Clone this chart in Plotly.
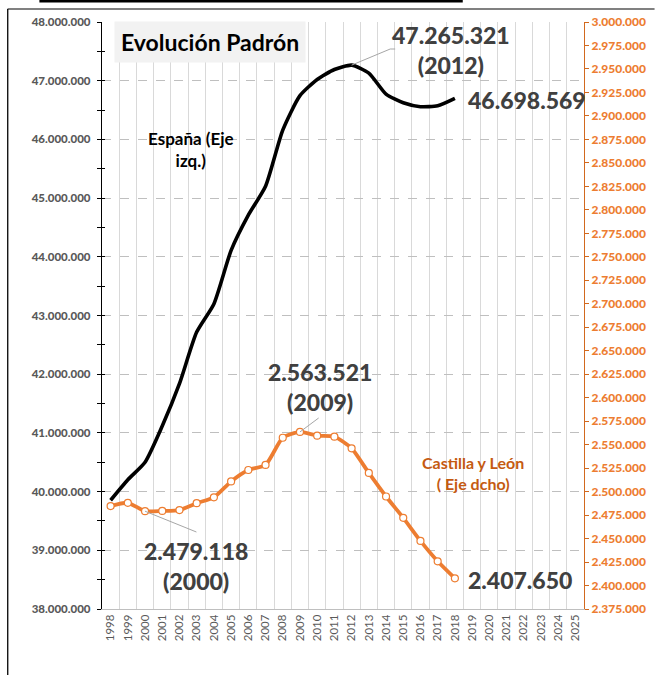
import plotly.graph_objects as go

# ---------------- data ----------------
years = list(range(1998, 2019))
axis_years = list(range(1998, 2026))
spain = [39852651, 40202160, 40499791, 41116842, 41837894, 42717064, 43197684,
         44108530, 44708964, 45200737, 46157822, 46745807, 47021031, 47190493,
         47265321, 47129783, 46771341, 46624382, 46557008, 46572132, 46698569]
cyl = [2484603, 2488062, 2479118, 2479425, 2480369, 2487646, 2493918,
       2510849, 2523020, 2528417, 2557330, 2563521, 2559515, 2558463,
       2546078, 2519875, 2494790, 2472052, 2447519, 2425801, 2407650]

left_ticks = list(range(38000000, 48000001, 1000000))
right_ticks = list(range(2375000, 3000001, 25000))


def fmt(v):
    return f"{v:,}".replace(",", ".")


FONT = "Lato"
ORANGE = "#ED7D31"
DORANGE = "#C55A11"
GREY_TXT = "#595959"
DARK = "#404040"

W, H = 658, 675
L, R, T, B = 102, 71, 22, 66
PW, PH = W - L - R, H - T - B


def px(x):
    return (x - L) / PW


def py(y):
    return (H - B - y) / PH


fig = go.Figure()

fig.add_trace(go.Scatter(
    x=years, y=spain, mode="lines", yaxis="y",
    line=dict(color="black", width=3.6, shape="spline", smoothing=0.6),
    hoverinfo="skip", showlegend=False))

fig.add_trace(go.Scatter(
    x=years, y=cyl, mode="lines+markers", yaxis="y2",
    line=dict(color=ORANGE, width=3.8, shape="spline", smoothing=0.6),
    marker=dict(symbol="circle", size=7, color="white",
                line=dict(color=ORANGE, width=1.2)),
    hoverinfo="skip", showlegend=False))

# invisible trace to host overlay axis for crossing ticks
fig.add_trace(go.Scatter(x=[years[0]], y=[spain[0]], yaxis="y3",
                         mode="markers", marker=dict(opacity=0),
                         hoverinfo="skip", showlegend=False))

fig.update_layout(
    width=W, height=H,
    margin=dict(l=L, r=R, t=T, b=B),
    paper_bgcolor="white", plot_bgcolor="white",
    font=dict(family=FONT),
    xaxis=dict(
        range=[1997.5, 2025.5], tickmode="array", tickvals=axis_years,
        ticktext=[str(y) for y in axis_years], tickangle=-90,
        tickfont=dict(size=11.5, color=GREY_TXT, family=FONT),
        showgrid=False, zeroline=False, ticks="",
        showline=True, linecolor="#BFBFBF", linewidth=1,
        minor=dict(tickvals=[y + 0.5 for y in axis_years[:-1]],
                   showgrid=True, gridcolor="#D9D9D9", gridwidth=1, ticks=""),
    ),
    yaxis=dict(
        range=[38000000, 48000000], tickmode="array", tickvals=left_ticks,
        ticktext=[fmt(v) for v in left_ticks],
        tickfont=dict(size=11.5, color=GREY_TXT, family=FONT + " Black"),
        ticklabelstandoff=4,
        showgrid=True, gridcolor="#BFBFBF", griddash="dash", gridwidth=1,
        zeroline=False, showline=True, linecolor="black", linewidth=1.3,
        ticks="outside", ticklen=4, tickcolor="black", tickwidth=1.3,
        minor=dict(dtick=500000, tick0=38000000, ticks="outside", ticklen=4,
                   tickcolor="black", tickwidth=1.3, showgrid=False),
    ),
    yaxis3=dict(
        range=[38000000, 48000000], overlaying="y", side="left", anchor="x",
        showticklabels=False, showgrid=False, zeroline=False, showline=False,
        tickmode="array", tickvals=left_ticks,
        ticks="inside", ticklen=3, tickcolor="black", tickwidth=1.3,
        minor=dict(dtick=500000, tick0=38000000, ticks="inside", ticklen=3,
                   tickcolor="black", tickwidth=1.3, showgrid=False),
    ),
    yaxis2=dict(
        range=[2375000, 3000000], overlaying="y", side="right", anchor="x",
        tickmode="array", tickvals=right_ticks,
        ticktext=[fmt(v) for v in right_ticks],
        tickfont=dict(size=12, color=ORANGE, family=FONT + " Black"),
        showgrid=False, zeroline=False, showline=True,
        linecolor="#D2691E", linewidth=1.3,
        ticks="outside", ticklen=4, tickcolor="#D2691E", tickwidth=1.3,
    ),
)

annots = []
big = dict(size=23, color=DARK, family=FONT + " Black")


def ann(text, x, y, font, xanchor="center", **kw):
    d = dict(text=text, x=px(x), y=py(y), xref="paper", yref="paper",
             showarrow=False, xanchor=xanchor, yanchor="middle", font=font)
    d.update(kw)
    return d


annots.append(ann("<b>Evolución Padrón</b>", 211, 42,
                  dict(size=23, color="black", family=FONT),
                  bgcolor="#F2F2F2", borderpad=6))
i12 = years.index(2012)
annots.append(ann(f"<b>{fmt(spain[i12])}<br>(2012)</b>", 453, 50, big))
annots.append(ann(f"<b>{fmt(spain[-1])}</b>", 468, 100, big, xanchor="left"))
annots.append(ann("<b>España (Eje<br>izq.)</b>", 192, 150,
                  dict(size=17, color="black", family=FONT)))
i09 = years.index(2009)
annots.append(ann(f"<b>{fmt(cyl[i09])}<br>(2009)</b>", 321, 387, big))
i00 = years.index(2000)
annots.append(ann(f"<b>{fmt(cyl[i00])}<br>(2000)</b>", 197, 566, big))
annots.append(ann(f"<b>{fmt(cyl[-1])}</b>", 468, 580, big, xanchor="left"))
annots.append(ann("<b>Castilla y León<br>( Eje dcho)</b>", 475, 473,
                  dict(size=16, color=DORANGE, family=FONT)))
fig.update_layout(annotations=annots)


# leader lines (anchored at data points, ending near the labels)
def xpix_to_data(p):
    return 1997.5 + (p - L) / PW * 28


def ypix_to_left(p):
    return 48000000 - (p - T) / PH * 10000000


def ypix_to_right(p):
    return 3000000 - (p - T) / PH * 625000


lc = "#A6A6A6"
shapes = [
    dict(type="path", xref="x", yref="y",
         path=f"M {years[i12]},{spain[i12]} L {xpix_to_data(392)},{ypix_to_left(49)} L {xpix_to_data(397)},{ypix_to_left(49)}",
         line=dict(color=lc, width=1)),
    dict(type="line", xref="x", yref="y2", x0=years[i09], y0=cyl[i09],
         x1=xpix_to_data(320), y1=ypix_to_right(418), line=dict(color=lc, width=1)),
    dict(type="line", xref="x", yref="y2", x0=years[i00], y0=cyl[i00],
         x1=xpix_to_data(197), y1=ypix_to_right(532), line=dict(color=lc, width=1)),
    # outer frame fragments of the original picture
    dict(type="rect", xref="paper", yref="paper", x0=px(7), x1=px(658),
         y0=py(10), y1=py(8), fillcolor="#808080", line=dict(width=0),
         layer="above"),
    dict(type="rect", xref="paper", yref="paper", x0=px(6.5), x1=px(7.8),
         y0=py(675), y1=py(9), fillcolor="black", line=dict(width=0),
         layer="above"),
    dict(type="rect", xref="paper", yref="paper", x0=px(39), x1=px(465),
         y0=py(2.5), y1=py(0), fillcolor="black", line=dict(width=0),
         layer="above"),
]
fig.update_layout(shapes=shapes)

fig.write_html("out.html", config={"displayModeBar": False},
               post_script="document.body.style.margin='0';document.body.style.overflow='hidden';")
